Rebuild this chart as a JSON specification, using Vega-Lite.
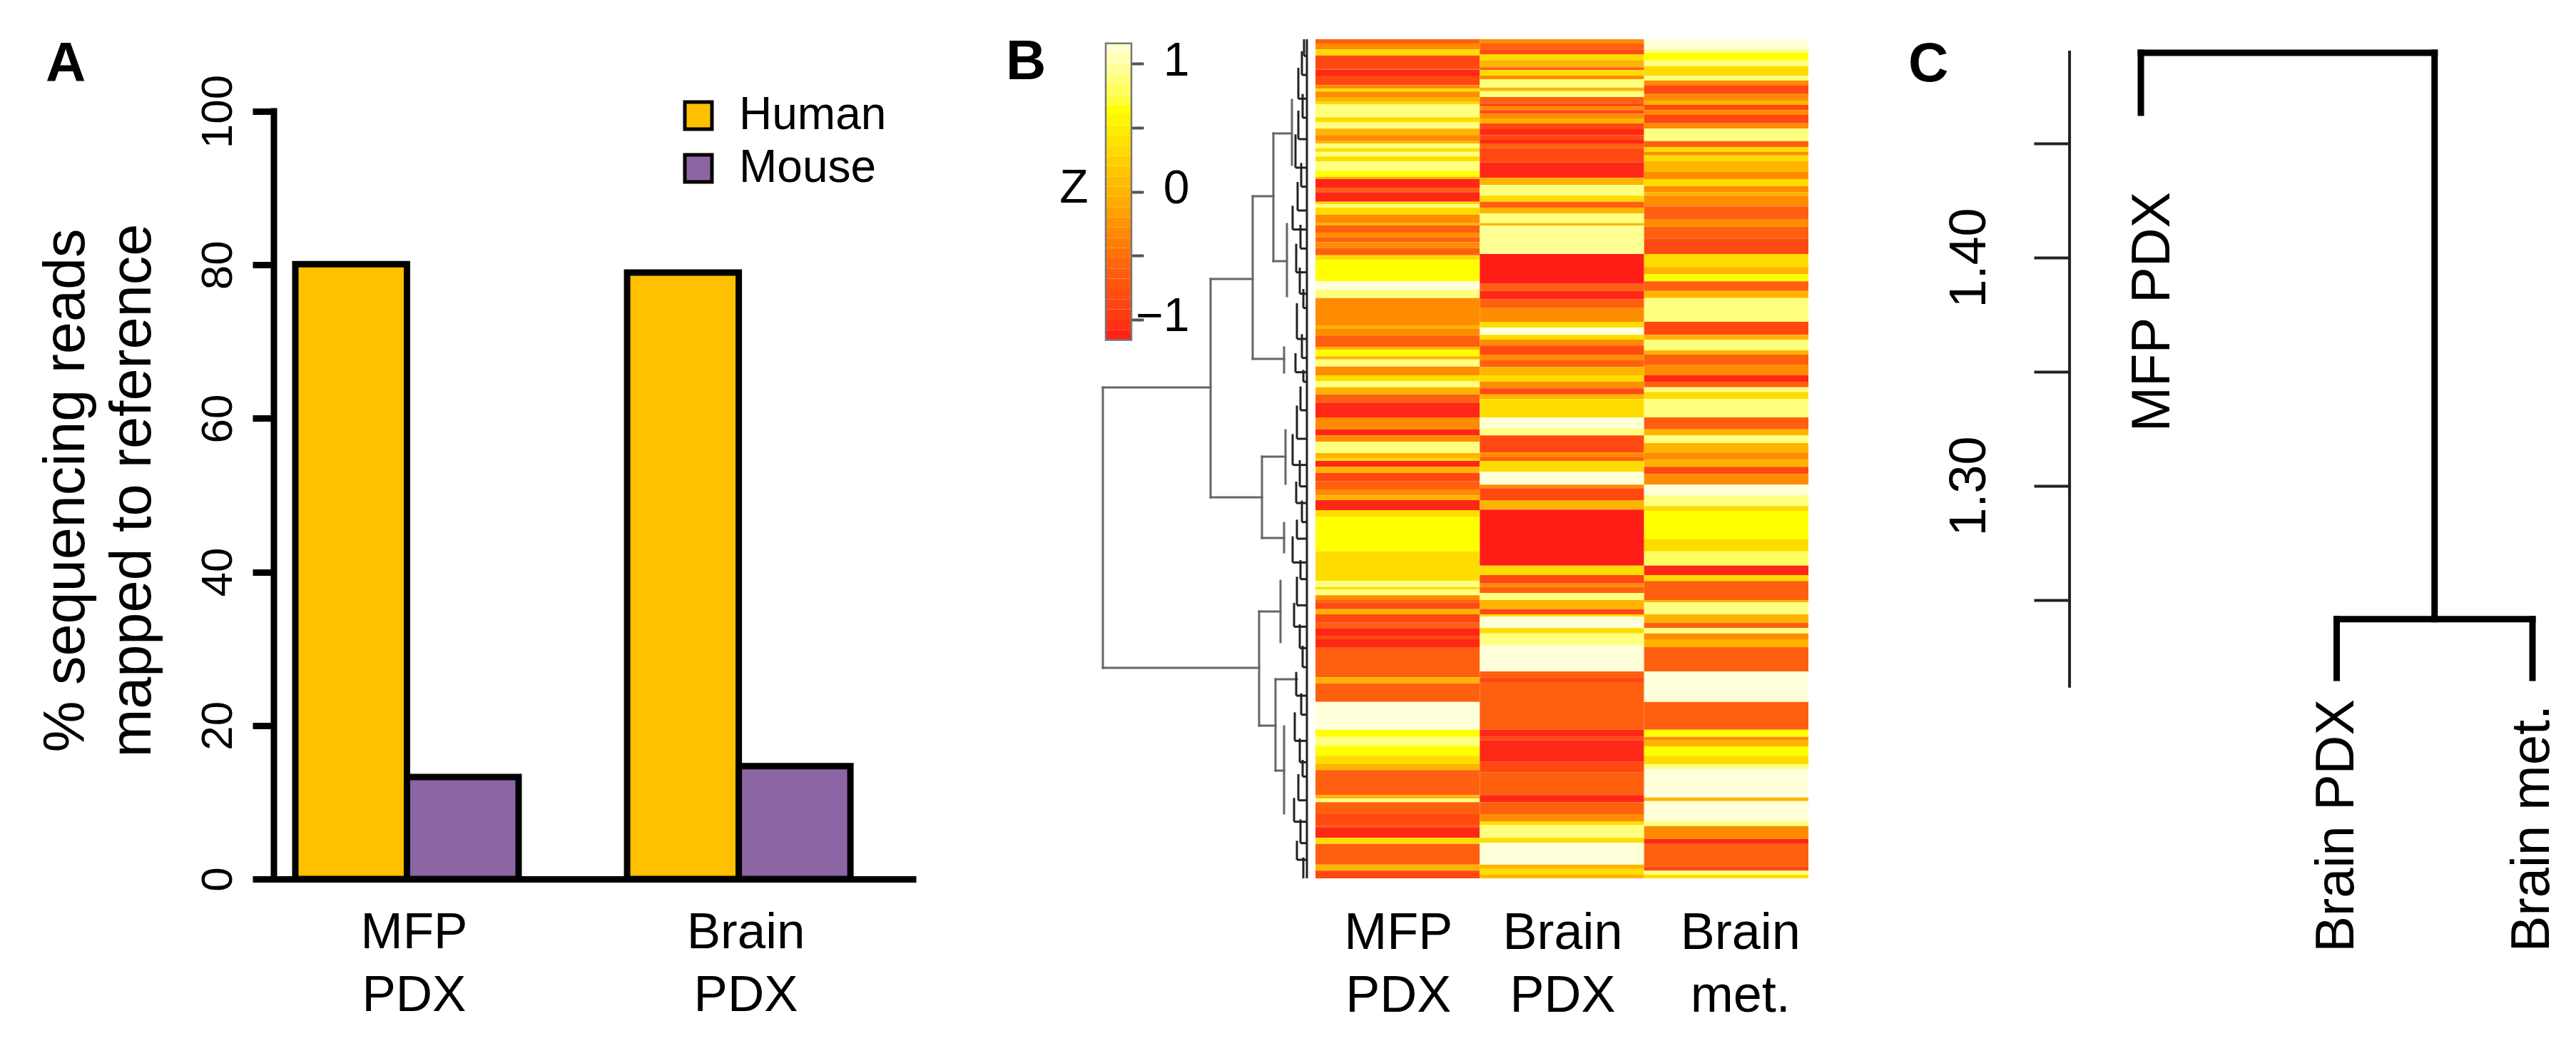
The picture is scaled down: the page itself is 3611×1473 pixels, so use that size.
{"$schema":"https://vega.github.io/schema/vega-lite/v6.json","padding":{"left":52,"top":49,"right":0,"bottom":0},"background":"white","spacing":0,"bounds":"flush","config":{"view":{"stroke":null},"font":"Liberation Sans","axis":{"grid":false,"labelFont":"Liberation Sans","titleFont":"Liberation Sans","labelColor":"#000","titleColor":"#000","titleFontWeight":"normal"}},"resolve":{"scale":{"fill":"independent","x":"independent","y":"independent"}},
"datasets":{
"bars":[{"sample":"MFP PDX","species":"Human","pct":80.1},{"sample":"MFP PDX","species":"Mouse","pct":13.3},{"sample":"Brain PDX","species":"Human","pct":79},{"sample":"Brain PDX","species":"Mouse","pct":14.7}],
"scale":[{"z":-1.12,"lo":-1.16,"hi":-1.08},{"z":-1.04,"lo":-1.08,"hi":-1.0},{"z":-0.96,"lo":-1.0,"hi":-0.92},{"z":-0.88,"lo":-0.92,"hi":-0.84},{"z":-0.8,"lo":-0.84,"hi":-0.76},{"z":-0.72,"lo":-0.76,"hi":-0.68},{"z":-0.64,"lo":-0.68,"hi":-0.6},{"z":-0.56,"lo":-0.6,"hi":-0.52},{"z":-0.48,"lo":-0.52,"hi":-0.44},{"z":-0.4,"lo":-0.44,"hi":-0.36},{"z":-0.32,"lo":-0.36,"hi":-0.28},{"z":-0.24,"lo":-0.28,"hi":-0.2},{"z":-0.16,"lo":-0.2,"hi":-0.12},{"z":-0.08,"lo":-0.12,"hi":-0.04},{"z":0,"lo":-0.04,"hi":0.04},{"z":0.08,"lo":0.04,"hi":0.12},{"z":0.16,"lo":0.12,"hi":0.2},{"z":0.24,"lo":0.2,"hi":0.28},{"z":0.32,"lo":0.28,"hi":0.36},{"z":0.4,"lo":0.36,"hi":0.44},{"z":0.48,"lo":0.44,"hi":0.52},{"z":0.56,"lo":0.52,"hi":0.6},{"z":0.64,"lo":0.6,"hi":0.68},{"z":0.72,"lo":0.68,"hi":0.76},{"z":0.8,"lo":0.76,"hi":0.84},{"z":0.88,"lo":0.84,"hi":0.92},{"z":0.96,"lo":0.92,"hi":1.0},{"z":1.04,"lo":1.0,"hi":1.08},{"z":1.12,"lo":1.08,"hi":1.16}],
"dendro":[{"h1":2.86,"r1":1464,"h2":2.86,"r2":2643},{"h1":2.86,"r1":1464,"h2":1.35,"r2":1464},{"h1":1.35,"r1":1008,"h2":1.35,"r2":1926},{"h1":1.35,"r1":1008,"h2":0.76,"r2":1008},{"h1":0.76,"r1":660,"h2":0.76,"r2":1344},{"h1":0.76,"r1":660,"h2":0.47,"r2":660},{"h1":0.47,"r1":396,"h2":0.47,"r2":933},{"h1":0.47,"r1":396,"h2":0.21,"r2":396},{"h1":0.21,"r1":255,"h2":0.21,"r2":528},{"h1":0.47,"r1":933,"h2":0.28,"r2":933},{"h1":0.28,"r1":777,"h2":0.28,"r2":1080},{"h1":0.76,"r1":1344,"h2":0.32,"r2":1344},{"h1":0.32,"r1":1296,"h2":0.32,"r2":1401},{"h1":1.35,"r1":1926,"h2":0.63,"r2":1926},{"h1":0.63,"r1":1755,"h2":0.63,"r2":2097},{"h1":0.63,"r1":1755,"h2":0.3,"r2":1755},{"h1":0.3,"r1":1644,"h2":0.3,"r2":1869},{"h1":0.63,"r1":2097,"h2":0.32,"r2":2097},{"h1":0.32,"r1":2034,"h2":0.32,"r2":2157},{"h1":2.86,"r1":2643,"h2":0.67,"r2":2643},{"h1":0.67,"r1":2406,"h2":0.67,"r2":2886},{"h1":0.67,"r1":2406,"h2":0.37,"r2":2406},{"h1":0.37,"r1":2277,"h2":0.37,"r2":2535},{"h1":0.67,"r1":2886,"h2":0.44,"r2":2886},{"h1":0.44,"r1":2691,"h2":0.44,"r2":3075},{"h1":0.44,"r1":2691,"h2":0.14,"r2":2691},{"h1":0.44,"r1":3075,"h2":0.32,"r2":3075},{"h1":0.32,"r1":2889,"h2":0.32,"r2":3255}],
"fuzz":[{"h1":0,"r1":0,"h2":0,"r2":3528},{"h1":0.04,"r1":0,"h2":0.04,"r2":70},{"h1":0.04,"r1":70,"h2":0,"r2":70},{"h1":0.07,"r1":50,"h2":0.07,"r2":150},{"h1":0.07,"r1":150,"h2":0,"r2":150},{"h1":0.12,"r1":120,"h2":0.12,"r2":250},{"h1":0.12,"r1":250,"h2":0,"r2":250},{"h1":0.06,"r1":230,"h2":0.06,"r2":330},{"h1":0.06,"r1":330,"h2":0,"r2":330},{"h1":0.12,"r1":300,"h2":0.12,"r2":420},{"h1":0.12,"r1":420,"h2":0,"r2":420},{"h1":0.16,"r1":400,"h2":0.16,"r2":540},{"h1":0.16,"r1":540,"h2":0,"r2":540},{"h1":0.08,"r1":520,"h2":0.08,"r2":620},{"h1":0.08,"r1":620,"h2":0,"r2":620},{"h1":0.13,"r1":600,"h2":0.13,"r2":720},{"h1":0.13,"r1":720,"h2":0,"r2":720},{"h1":0.2,"r1":700,"h2":0.2,"r2":800},{"h1":0.2,"r1":800,"h2":0,"r2":800},{"h1":0.09,"r1":780,"h2":0.09,"r2":880},{"h1":0.09,"r1":880,"h2":0,"r2":880},{"h1":0.15,"r1":860,"h2":0.15,"r2":980},{"h1":0.15,"r1":980,"h2":0,"r2":980},{"h1":0.1,"r1":960,"h2":0.1,"r2":1070},{"h1":0.1,"r1":1070,"h2":0,"r2":1070},{"h1":0.05,"r1":1050,"h2":0.05,"r2":1130},{"h1":0.05,"r1":1130,"h2":0,"r2":1130},{"h1":0.14,"r1":1110,"h2":0.14,"r2":1260},{"h1":0.14,"r1":1260,"h2":0,"r2":1260},{"h1":0.07,"r1":1240,"h2":0.07,"r2":1340},{"h1":0.07,"r1":1340,"h2":0,"r2":1340},{"h1":0.16,"r1":1320,"h2":0.16,"r2":1400},{"h1":0.16,"r1":1400,"h2":0,"r2":1400},{"h1":0.05,"r1":1390,"h2":0.05,"r2":1440},{"h1":0.05,"r1":1440,"h2":0,"r2":1440},{"h1":0.09,"r1":1460,"h2":0.09,"r2":1560},{"h1":0.09,"r1":1560,"h2":0,"r2":1560},{"h1":0.14,"r1":1540,"h2":0.14,"r2":1680},{"h1":0.14,"r1":1680,"h2":0,"r2":1680},{"h1":0.2,"r1":1660,"h2":0.2,"r2":1790},{"h1":0.2,"r1":1790,"h2":0,"r2":1790},{"h1":0.1,"r1":1770,"h2":0.1,"r2":1880},{"h1":0.1,"r1":1880,"h2":0,"r2":1880},{"h1":0.15,"r1":1860,"h2":0.15,"r2":1950},{"h1":0.15,"r1":1950,"h2":0,"r2":1950},{"h1":0.07,"r1":1940,"h2":0.07,"r2":2030},{"h1":0.07,"r1":2030,"h2":0,"r2":2030},{"h1":0.14,"r1":2020,"h2":0.14,"r2":2100},{"h1":0.14,"r1":2100,"h2":0,"r2":2100},{"h1":0.2,"r1":2090,"h2":0.2,"r2":2200},{"h1":0.2,"r1":2200,"h2":0,"r2":2200},{"h1":0.09,"r1":2190,"h2":0.09,"r2":2270},{"h1":0.09,"r1":2270,"h2":0,"r2":2270},{"h1":0.14,"r1":2260,"h2":0.14,"r2":2380},{"h1":0.14,"r1":2380,"h2":0,"r2":2380},{"h1":0.18,"r1":2370,"h2":0.18,"r2":2470},{"h1":0.18,"r1":2470,"h2":0,"r2":2470},{"h1":0.1,"r1":2460,"h2":0.1,"r2":2560},{"h1":0.1,"r1":2560,"h2":0,"r2":2560},{"h1":0.06,"r1":2550,"h2":0.06,"r2":2640},{"h1":0.06,"r1":2640,"h2":0,"r2":2640},{"h1":0.15,"r1":2660,"h2":0.15,"r2":2760},{"h1":0.15,"r1":2760,"h2":0,"r2":2760},{"h1":0.08,"r1":2750,"h2":0.08,"r2":2840},{"h1":0.08,"r1":2840,"h2":0,"r2":2840},{"h1":0.17,"r1":2830,"h2":0.17,"r2":2950},{"h1":0.17,"r1":2950,"h2":0,"r2":2950},{"h1":0.1,"r1":2940,"h2":0.1,"r2":3040},{"h1":0.1,"r1":3040,"h2":0,"r2":3040},{"h1":0.06,"r1":3030,"h2":0.06,"r2":3100},{"h1":0.06,"r1":3100,"h2":0,"r2":3100},{"h1":0.12,"r1":3090,"h2":0.12,"r2":3200},{"h1":0.12,"r1":3200,"h2":0,"r2":3200},{"h1":0.18,"r1":3190,"h2":0.18,"r2":3290},{"h1":0.18,"r1":3290,"h2":0,"r2":3290},{"h1":0.09,"r1":3280,"h2":0.09,"r2":3380},{"h1":0.09,"r1":3380,"h2":0,"r2":3380},{"h1":0.14,"r1":3370,"h2":0.14,"r2":3450},{"h1":0.14,"r1":3450,"h2":0,"r2":3450},{"h1":0.05,"r1":3440,"h2":0.05,"r2":3528}],
"heat":[
{"s":"MFP PDX","a":0,"b":18,"z":-0.6},{"s":"MFP PDX","a":18,"b":43,"z":-0.3},{"s":"MFP PDX","a":43,"b":68,"z":0.35},{"s":"MFP PDX","a":68,"b":123,"z":-0.85},{"s":"MFP PDX","a":123,"b":128,"z":-0.6},{"s":"MFP PDX","a":128,"b":153,"z":-1.1},{"s":"MFP PDX","a":153,"b":193,"z":-0.85},{"s":"MFP PDX","a":193,"b":208,"z":-0.3},{"s":"MFP PDX","a":208,"b":220,"z":0.35},{"s":"MFP PDX","a":220,"b":243,"z":-0.3},{"s":"MFP PDX","a":243,"b":263,"z":0},{"s":"MFP PDX","a":263,"b":273,"z":0.35},{"s":"MFP PDX","a":273,"b":328,"z":0.9},{"s":"MFP PDX","a":328,"b":348,"z":0.35},{"s":"MFP PDX","a":348,"b":376,"z":0.9},{"s":"MFP PDX","a":376,"b":403,"z":0},{"s":"MFP PDX","a":403,"b":428,"z":-0.3},{"s":"MFP PDX","a":428,"b":438,"z":0},{"s":"MFP PDX","a":438,"b":458,"z":0.9},{"s":"MFP PDX","a":458,"b":473,"z":0.35},{"s":"MFP PDX","a":473,"b":493,"z":0.9},{"s":"MFP PDX","a":493,"b":513,"z":0.35},{"s":"MFP PDX","a":513,"b":553,"z":0.9},{"s":"MFP PDX","a":553,"b":578,"z":0.64},{"s":"MFP PDX","a":578,"b":588,"z":0},{"s":"MFP PDX","a":588,"b":626,"z":-1.1},{"s":"MFP PDX","a":626,"b":643,"z":-0.6},{"s":"MFP PDX","a":643,"b":683,"z":-1.1},{"s":"MFP PDX","a":683,"b":693,"z":0.35},{"s":"MFP PDX","a":693,"b":708,"z":0.9},{"s":"MFP PDX","a":708,"b":738,"z":0.35},{"s":"MFP PDX","a":738,"b":773,"z":-0.3},{"s":"MFP PDX","a":773,"b":783,"z":0},{"s":"MFP PDX","a":783,"b":813,"z":-0.6},{"s":"MFP PDX","a":813,"b":833,"z":-0.3},{"s":"MFP PDX","a":833,"b":853,"z":-0.6},{"s":"MFP PDX","a":853,"b":878,"z":-0.3},{"s":"MFP PDX","a":878,"b":908,"z":-0.6},{"s":"MFP PDX","a":908,"b":928,"z":0.35},{"s":"MFP PDX","a":928,"b":1018,"z":0.64},{"s":"MFP PDX","a":1018,"b":1053,"z":1.15},{"s":"MFP PDX","a":1053,"b":1088,"z":0.9},{"s":"MFP PDX","a":1088,"b":1173,"z":-0.3},{"s":"MFP PDX","a":1173,"b":1203,"z":-0.3},{"s":"MFP PDX","a":1203,"b":1218,"z":0},{"s":"MFP PDX","a":1218,"b":1248,"z":-0.3},{"s":"MFP PDX","a":1248,"b":1293,"z":-0.6},{"s":"MFP PDX","a":1293,"b":1306,"z":0},{"s":"MFP PDX","a":1306,"b":1333,"z":0.64},{"s":"MFP PDX","a":1333,"b":1346,"z":0},{"s":"MFP PDX","a":1346,"b":1376,"z":0.9},{"s":"MFP PDX","a":1376,"b":1413,"z":-0.3},{"s":"MFP PDX","a":1413,"b":1438,"z":0.35},{"s":"MFP PDX","a":1438,"b":1463,"z":0.9},{"s":"MFP PDX","a":1463,"b":1493,"z":0},{"s":"MFP PDX","a":1493,"b":1528,"z":-0.6},{"s":"MFP PDX","a":1528,"b":1590,"z":-1.1},{"s":"MFP PDX","a":1590,"b":1640,"z":-0.3},{"s":"MFP PDX","a":1640,"b":1666,"z":-1.1},{"s":"MFP PDX","a":1666,"b":1693,"z":-0.3},{"s":"MFP PDX","a":1693,"b":1740,"z":0.9},{"s":"MFP PDX","a":1740,"b":1763,"z":0},{"s":"MFP PDX","a":1763,"b":1773,"z":0.35},{"s":"MFP PDX","a":1773,"b":1798,"z":-1.1},{"s":"MFP PDX","a":1798,"b":1823,"z":0},{"s":"MFP PDX","a":1823,"b":1858,"z":-0.85},{"s":"MFP PDX","a":1858,"b":1893,"z":-0.6},{"s":"MFP PDX","a":1893,"b":1918,"z":-0.3},{"s":"MFP PDX","a":1918,"b":1938,"z":0},{"s":"MFP PDX","a":1938,"b":1980,"z":-1.1},{"s":"MFP PDX","a":1980,"b":2008,"z":0.35},{"s":"MFP PDX","a":2008,"b":2153,"z":0.64},{"s":"MFP PDX","a":2153,"b":2278,"z":0.35},{"s":"MFP PDX","a":2278,"b":2303,"z":0.9},{"s":"MFP PDX","a":2303,"b":2313,"z":0.35},{"s":"MFP PDX","a":2313,"b":2338,"z":0.9},{"s":"MFP PDX","a":2338,"b":2358,"z":-0.3},{"s":"MFP PDX","a":2358,"b":2368,"z":-0.6},{"s":"MFP PDX","a":2368,"b":2396,"z":-0.85},{"s":"MFP PDX","a":2396,"b":2418,"z":0},{"s":"MFP PDX","a":2418,"b":2453,"z":-0.85},{"s":"MFP PDX","a":2453,"b":2476,"z":-0.6},{"s":"MFP PDX","a":2476,"b":2508,"z":-1.1},{"s":"MFP PDX","a":2508,"b":2523,"z":-0.85},{"s":"MFP PDX","a":2523,"b":2556,"z":-1.1},{"s":"MFP PDX","a":2556,"b":2683,"z":-0.6},{"s":"MFP PDX","a":2683,"b":2708,"z":0},{"s":"MFP PDX","a":2708,"b":2786,"z":-0.6},{"s":"MFP PDX","a":2786,"b":2903,"z":1.15},{"s":"MFP PDX","a":2903,"b":2933,"z":0.64},{"s":"MFP PDX","a":2933,"b":2973,"z":0.9},{"s":"MFP PDX","a":2973,"b":3013,"z":0.64},{"s":"MFP PDX","a":3013,"b":3048,"z":0.35},{"s":"MFP PDX","a":3048,"b":3073,"z":0},{"s":"MFP PDX","a":3073,"b":3178,"z":-0.6},{"s":"MFP PDX","a":3178,"b":3193,"z":0},{"s":"MFP PDX","a":3193,"b":3208,"z":0.9},{"s":"MFP PDX","a":3208,"b":3258,"z":-0.6},{"s":"MFP PDX","a":3258,"b":3303,"z":-0.85},{"s":"MFP PDX","a":3303,"b":3313,"z":-0.6},{"s":"MFP PDX","a":3313,"b":3358,"z":-1.1},{"s":"MFP PDX","a":3358,"b":3383,"z":0.35},{"s":"MFP PDX","a":3383,"b":3470,"z":-0.6},{"s":"MFP PDX","a":3470,"b":3496,"z":0},{"s":"MFP PDX","a":3496,"b":3528,"z":-0.85},
{"s":"Brain PDX","a":0,"b":18,"z":-0.3},{"s":"Brain PDX","a":18,"b":43,"z":-0.6},{"s":"Brain PDX","a":43,"b":63,"z":-0.85},{"s":"Brain PDX","a":63,"b":88,"z":0.35},{"s":"Brain PDX","a":88,"b":118,"z":0},{"s":"Brain PDX","a":118,"b":130,"z":-0.6},{"s":"Brain PDX","a":130,"b":153,"z":0.35},{"s":"Brain PDX","a":153,"b":168,"z":-0.3},{"s":"Brain PDX","a":168,"b":203,"z":0.9},{"s":"Brain PDX","a":203,"b":218,"z":0},{"s":"Brain PDX","a":218,"b":243,"z":0.9},{"s":"Brain PDX","a":243,"b":268,"z":-0.6},{"s":"Brain PDX","a":268,"b":283,"z":-0.85},{"s":"Brain PDX","a":283,"b":298,"z":-0.3},{"s":"Brain PDX","a":298,"b":313,"z":-0.85},{"s":"Brain PDX","a":313,"b":333,"z":-0.3},{"s":"Brain PDX","a":333,"b":353,"z":0},{"s":"Brain PDX","a":353,"b":378,"z":-0.85},{"s":"Brain PDX","a":378,"b":403,"z":-1.1},{"s":"Brain PDX","a":403,"b":423,"z":-0.85},{"s":"Brain PDX","a":423,"b":438,"z":-1.1},{"s":"Brain PDX","a":438,"b":458,"z":-0.6},{"s":"Brain PDX","a":458,"b":518,"z":-0.85},{"s":"Brain PDX","a":518,"b":583,"z":-1.1},{"s":"Brain PDX","a":583,"b":613,"z":0},{"s":"Brain PDX","a":613,"b":658,"z":0.9},{"s":"Brain PDX","a":658,"b":683,"z":0.35},{"s":"Brain PDX","a":683,"b":708,"z":-0.6},{"s":"Brain PDX","a":708,"b":733,"z":0},{"s":"Brain PDX","a":733,"b":773,"z":0.9},{"s":"Brain PDX","a":773,"b":783,"z":0},{"s":"Brain PDX","a":783,"b":903,"z":0.95},{"s":"Brain PDX","a":903,"b":1028,"z":-1.15},{"s":"Brain PDX","a":1028,"b":1058,"z":-0.6},{"s":"Brain PDX","a":1058,"b":1093,"z":-1.1},{"s":"Brain PDX","a":1093,"b":1128,"z":-0.6},{"s":"Brain PDX","a":1128,"b":1188,"z":-0.3},{"s":"Brain PDX","a":1188,"b":1213,"z":0.35},{"s":"Brain PDX","a":1213,"b":1243,"z":1.15},{"s":"Brain PDX","a":1243,"b":1263,"z":0.35},{"s":"Brain PDX","a":1263,"b":1288,"z":-0.3},{"s":"Brain PDX","a":1288,"b":1326,"z":-0.85},{"s":"Brain PDX","a":1326,"b":1348,"z":-0.3},{"s":"Brain PDX","a":1348,"b":1378,"z":-0.6},{"s":"Brain PDX","a":1378,"b":1413,"z":0},{"s":"Brain PDX","a":1413,"b":1440,"z":0.35},{"s":"Brain PDX","a":1440,"b":1468,"z":-0.3},{"s":"Brain PDX","a":1468,"b":1493,"z":-0.85},{"s":"Brain PDX","a":1493,"b":1513,"z":0},{"s":"Brain PDX","a":1513,"b":1590,"z":0.35},{"s":"Brain PDX","a":1590,"b":1636,"z":1.15},{"s":"Brain PDX","a":1636,"b":1666,"z":0.9},{"s":"Brain PDX","a":1666,"b":1738,"z":-0.85},{"s":"Brain PDX","a":1738,"b":1758,"z":-0.3},{"s":"Brain PDX","a":1758,"b":1773,"z":-0.6},{"s":"Brain PDX","a":1773,"b":1818,"z":0.35},{"s":"Brain PDX","a":1818,"b":1873,"z":1.15},{"s":"Brain PDX","a":1873,"b":1888,"z":-0.3},{"s":"Brain PDX","a":1888,"b":1938,"z":-0.85},{"s":"Brain PDX","a":1938,"b":1978,"z":0},{"s":"Brain PDX","a":1978,"b":2213,"z":-1.15},{"s":"Brain PDX","a":2213,"b":2253,"z":0.35},{"s":"Brain PDX","a":2253,"b":2288,"z":-0.85},{"s":"Brain PDX","a":2288,"b":2303,"z":-0.3},{"s":"Brain PDX","a":2303,"b":2328,"z":-0.6},{"s":"Brain PDX","a":2328,"b":2358,"z":0.9},{"s":"Brain PDX","a":2358,"b":2396,"z":0},{"s":"Brain PDX","a":2396,"b":2418,"z":-0.85},{"s":"Brain PDX","a":2418,"b":2428,"z":0.35},{"s":"Brain PDX","a":2428,"b":2476,"z":1.15},{"s":"Brain PDX","a":2476,"b":2498,"z":0.35},{"s":"Brain PDX","a":2498,"b":2548,"z":0.9},{"s":"Brain PDX","a":2548,"b":2658,"z":1.15},{"s":"Brain PDX","a":2658,"b":2683,"z":-0.6},{"s":"Brain PDX","a":2683,"b":2703,"z":-0.85},{"s":"Brain PDX","a":2703,"b":2903,"z":-0.6},{"s":"Brain PDX","a":2903,"b":2933,"z":-1.1},{"s":"Brain PDX","a":2933,"b":2948,"z":-0.85},{"s":"Brain PDX","a":2948,"b":3038,"z":-1.1},{"s":"Brain PDX","a":3038,"b":3083,"z":-0.85},{"s":"Brain PDX","a":3083,"b":3178,"z":-0.6},{"s":"Brain PDX","a":3178,"b":3208,"z":-1.1},{"s":"Brain PDX","a":3208,"b":3258,"z":-0.6},{"s":"Brain PDX","a":3258,"b":3288,"z":-0.3},{"s":"Brain PDX","a":3288,"b":3303,"z":0.35},{"s":"Brain PDX","a":3303,"b":3358,"z":0.9},{"s":"Brain PDX","a":3358,"b":3378,"z":0.35},{"s":"Brain PDX","a":3378,"b":3470,"z":1.15},{"s":"Brain PDX","a":3470,"b":3488,"z":0},{"s":"Brain PDX","a":3488,"b":3513,"z":0.35},{"s":"Brain PDX","a":3513,"b":3528,"z":0},
{"s":"Brain met.","a":0,"b":43,"z":1.15},{"s":"Brain met.","a":43,"b":58,"z":0.9},{"s":"Brain met.","a":58,"b":88,"z":0.64},{"s":"Brain met.","a":88,"b":113,"z":0.9},{"s":"Brain met.","a":113,"b":153,"z":0.35},{"s":"Brain met.","a":153,"b":173,"z":0.9},{"s":"Brain met.","a":173,"b":193,"z":-0.3},{"s":"Brain met.","a":193,"b":230,"z":-0.85},{"s":"Brain met.","a":230,"b":258,"z":-0.3},{"s":"Brain met.","a":258,"b":276,"z":0},{"s":"Brain met.","a":276,"b":298,"z":-0.85},{"s":"Brain met.","a":298,"b":318,"z":-0.3},{"s":"Brain met.","a":318,"b":353,"z":-0.85},{"s":"Brain met.","a":353,"b":376,"z":-0.3},{"s":"Brain met.","a":376,"b":428,"z":0.9},{"s":"Brain met.","a":428,"b":453,"z":-0.6},{"s":"Brain met.","a":453,"b":473,"z":0.35},{"s":"Brain met.","a":473,"b":488,"z":-0.3},{"s":"Brain met.","a":488,"b":513,"z":0.35},{"s":"Brain met.","a":513,"b":558,"z":0},{"s":"Brain met.","a":558,"b":588,"z":-0.3},{"s":"Brain met.","a":588,"b":618,"z":0.35},{"s":"Brain met.","a":618,"b":643,"z":-0.3},{"s":"Brain met.","a":643,"b":658,"z":0},{"s":"Brain met.","a":658,"b":703,"z":-0.3},{"s":"Brain met.","a":703,"b":758,"z":-0.6},{"s":"Brain met.","a":758,"b":788,"z":-0.3},{"s":"Brain met.","a":788,"b":838,"z":-0.6},{"s":"Brain met.","a":838,"b":903,"z":-0.85},{"s":"Brain met.","a":903,"b":958,"z":0.35},{"s":"Brain met.","a":958,"b":988,"z":0},{"s":"Brain met.","a":988,"b":1018,"z":0.64},{"s":"Brain met.","a":1018,"b":1058,"z":-0.6},{"s":"Brain met.","a":1058,"b":1088,"z":0},{"s":"Brain met.","a":1088,"b":1188,"z":0.9},{"s":"Brain met.","a":1188,"b":1243,"z":-0.85},{"s":"Brain met.","a":1243,"b":1263,"z":0},{"s":"Brain met.","a":1263,"b":1308,"z":0.9},{"s":"Brain met.","a":1308,"b":1326,"z":0},{"s":"Brain met.","a":1326,"b":1368,"z":-0.6},{"s":"Brain met.","a":1368,"b":1413,"z":-0.3},{"s":"Brain met.","a":1413,"b":1440,"z":-1.1},{"s":"Brain met.","a":1440,"b":1463,"z":-0.6},{"s":"Brain met.","a":1463,"b":1483,"z":0.9},{"s":"Brain met.","a":1483,"b":1513,"z":0.35},{"s":"Brain met.","a":1513,"b":1590,"z":0.9},{"s":"Brain met.","a":1590,"b":1640,"z":-0.6},{"s":"Brain met.","a":1640,"b":1666,"z":0},{"s":"Brain met.","a":1666,"b":1698,"z":0.9},{"s":"Brain met.","a":1698,"b":1738,"z":0},{"s":"Brain met.","a":1738,"b":1768,"z":-0.3},{"s":"Brain met.","a":1768,"b":1798,"z":0},{"s":"Brain met.","a":1798,"b":1828,"z":-0.85},{"s":"Brain met.","a":1828,"b":1873,"z":-0.3},{"s":"Brain met.","a":1873,"b":1918,"z":1.15},{"s":"Brain met.","a":1918,"b":1963,"z":0.9},{"s":"Brain met.","a":1963,"b":1983,"z":0.35},{"s":"Brain met.","a":1983,"b":2103,"z":0.64},{"s":"Brain met.","a":2103,"b":2153,"z":0.35},{"s":"Brain met.","a":2153,"b":2213,"z":0.8},{"s":"Brain met.","a":2213,"b":2253,"z":-1.1},{"s":"Brain met.","a":2253,"b":2278,"z":0.35},{"s":"Brain met.","a":2278,"b":2358,"z":-0.6},{"s":"Brain met.","a":2358,"b":2368,"z":0},{"s":"Brain met.","a":2368,"b":2418,"z":0.9},{"s":"Brain met.","a":2418,"b":2453,"z":0},{"s":"Brain met.","a":2453,"b":2476,"z":-0.6},{"s":"Brain met.","a":2476,"b":2498,"z":0.9},{"s":"Brain met.","a":2498,"b":2523,"z":-0.3},{"s":"Brain met.","a":2523,"b":2556,"z":0},{"s":"Brain met.","a":2556,"b":2658,"z":-0.6},{"s":"Brain met.","a":2658,"b":2786,"z":1.15},{"s":"Brain met.","a":2786,"b":2903,"z":-0.6},{"s":"Brain met.","a":2903,"b":2933,"z":0.64},{"s":"Brain met.","a":2933,"b":2948,"z":-0.3},{"s":"Brain met.","a":2948,"b":2973,"z":0},{"s":"Brain met.","a":2973,"b":3013,"z":0.64},{"s":"Brain met.","a":3013,"b":3048,"z":0.35},{"s":"Brain met.","a":3048,"b":3068,"z":0.9},{"s":"Brain met.","a":3068,"b":3188,"z":1.15},{"s":"Brain met.","a":3188,"b":3203,"z":0},{"s":"Brain met.","a":3203,"b":3288,"z":1.15},{"s":"Brain met.","a":3288,"b":3308,"z":0.9},{"s":"Brain met.","a":3308,"b":3363,"z":-0.3},{"s":"Brain met.","a":3363,"b":3383,"z":-1.1},{"s":"Brain met.","a":3383,"b":3478,"z":-0.6},{"s":"Brain met.","a":3478,"b":3496,"z":-0.85},{"s":"Brain met.","a":3496,"b":3513,"z":0.9},{"s":"Brain met.","a":3513,"b":3528,"z":0.35}],
"tree":[{"l1":1,"d1":1.4897,"l2":2.5,"d2":1.4897},{"l1":1,"d1":1.4897,"l2":1,"d2":1.4634},{"l1":2.5,"d1":1.4897,"l2":2.5,"d2":1.2416},{"l1":2,"d1":1.2416,"l2":3,"d2":1.2416},{"l1":2,"d1":1.2416,"l2":2,"d2":1.2159},{"l1":3,"d1":1.2416,"l2":3,"d2":1.2159}],
"leaves":[{"leaf":1.06,"d":1.4288,"name":"MFP PDX"},{"leaf":2,"d":1.2066,"name":"Brain PDX"},{"leaf":3,"d":1.2041,"name":"Brain met."}]
},
"hconcat":[
{"width":900,"height":1177,"title":{"text":"A","anchor":"start","frame":"group","dx":-320,"dy":79,"font":"Liberation Sans","fontWeight":"bold","fontSize":78,"color":"#000"},
"layer":[
{"data":{"name":"bars"},"mark":{"type":"bar","stroke":"#000","strokeWidth":9},"encoding":{
"x":{"field":"sample","type":"nominal","sort":["MFP PDX","Brain PDX"],"scale":{"paddingInner":0.327,"paddingOuter":0.131,"align":0.246},"axis":{"title":null,"labelAngle":0,"labelExpr":"split(datum.label,' ')","labelFontSize":71,"labelLineHeight":88,"labelPadding":40,"labelOffset":10,"labelBaseline":"top","ticks":false,"domainWidth":9,"domainColor":"#000","labelAlign":"center"}},
"xOffset":{"field":"species","type":"nominal","sort":["Human","Mouse"],"scale":{"paddingInner":0,"paddingOuter":0}},
"y":{"field":"pct","type":"quantitative","scale":{"domain":[0,109.39],"nice":false},"axis":{"values":[0,20,40,60,80,100],"domain":false,"tickSize":30,"tickWidth":9,"tickColor":"#000","labelFontSize":62,"labelAngle":-90,"labelAlign":"center","labelBaseline":"bottom","labelPadding":17,"title":["% sequencing reads","mapped to reference"],"titleFontSize":81,"titleLineHeight":93,"titleX":-250,"titleY":632}},
"fill":{"field":"species","type":"nominal","sort":["Human","Mouse"],"scale":{"domain":["Human","Mouse"],"range":["#ffc000","#8c65a5"]},"legend":{"orient":"none","legendX":563,"legendY":75,"title":null,"symbolType":"square","symbolSize":1444,"symbolStrokeWidth":5,"symbolStrokeColor":"#000","labelFontSize":64,"labelLimit":400,"labelFont":"Liberation Sans","labelColor":"#000","rowPadding":10,"labelOffset":25,"symbolOpacity":1}}}},
{"data":{"values":[{"from":0,"to":100}]},"mark":{"type":"rule","stroke":"#000","strokeWidth":9,"strokeCap":"square"},"encoding":{"x":{"value":0},"y":{"field":"from","type":"quantitative"},"y2":{"field":"to"}}}
]},
{"width":302,"height":1177,"title":{"text":"B","anchor":"start","frame":"group","dx":126,"dy":79,"font":"Liberation Sans","fontWeight":"bold","fontSize":78,"color":"#000"},
"layer":[
{"data":{"name":"scale"},"mark":{"type":"rect"},"encoding":{
"x":{"datum":0,"type":"quantitative","scale":{"domain":[-7.389,1],"nice":false,"zero":false},"axis":null},"x2":{"datum":1},
"y":{"field":"lo","type":"quantitative","scale":{"domain":[-5.374,1.192],"nice":false},"axis":{"orient":"right","values":[-1,-0.5,0,0.5,1],"domain":false,"tickSize":17,"tickWidth":4,"tickColor":"#555","labelExpr":"abs(datum.value)==0.5?'':format(datum.value,'d')","labelFontSize":66,"labelAlign":"right","labelPadding":64,"labelOffset":-4,"title":"Z","titleAngle":0,"titleFontSize":66,"titleX":-81,"titleY":208,"titleAlign":"center","titleBaseline":"middle"}},
"y2":{"field":"hi"},
"fill":{"field":"z","type":"quantitative","scale":{"type":"linear","domain":[-1.16,-0.6,-0.3,0,0.35,0.64,0.9,1.16],"range":["#ff1a16","#ff6010","#ff8c00","#ffb400","#ffdc00","#ffff00","#ffff80","#ffffdc"]},"legend":null}}},
{"data":{"values":[{"lo":-1.16,"hi":1.16}]},"mark":{"type":"rect","fillOpacity":0,"stroke":"#777","strokeWidth":2.5},"encoding":{"x":{"datum":0,"type":"quantitative"},"x2":{"datum":1},"y":{"field":"lo","type":"quantitative"},"y2":{"field":"hi"}}}
]},
{"width":258,"height":1177,"data":{"name":"dendro"},
"layer":[
{"mark":{"type":"rule","stroke":"#666","strokeWidth":3,"strokeCap":"square"},"encoding":{
"x":{"field":"h1","type":"quantitative","scale":{"domain":[2.46,-0.12],"nice":false,"zero":false},"axis":null},"x2":{"field":"h2"},
"y":{"field":"r1","type":"quantitative","scale":{"domain":[3531,0],"nice":false,"zero":false},"axis":null},"y2":{"field":"r2"}}},
{"data":{"name":"fuzz"},"mark":{"type":"rule","stroke":"#222","strokeWidth":3},"encoding":{
"x":{"field":"h1","type":"quantitative"},"x2":{"field":"h2"},
"y":{"field":"r1","type":"quantitative"},"y2":{"field":"r2"}}}
]},
{"width":691,"height":1177,"data":{"name":"heat"},"mark":{"type":"rect"},"encoding":{
"x":{"field":"s","type":"nominal","sort":["MFP PDX","Brain PDX","Brain met."],"scale":{"paddingInner":0,"paddingOuter":0},"axis":{"title":null,"domain":false,"ticks":false,"labelAngle":0,"labelExpr":"split(datum.label,' ')","labelFontSize":72,"labelLineHeight":88,"labelPadding":40,"labelBaseline":"top","labelAlign":"center","labelOffset":{"condition":{"test":"datum.value=='Brain met.'","value":20},"value":1}}},
"y":{"field":"a","type":"quantitative","scale":{"domain":[3531,0],"nice":false,"zero":false},"axis":null},"y2":{"field":"b"},
"fill":{"field":"z","type":"quantitative","scale":{"type":"linear","domain":[-1.16,-0.6,-0.3,0,0.35,0.64,0.9,1.16],"range":["#ff1a16","#ff6010","#ff8c00","#ffb400","#ffdc00","#ffff00","#ffff80","#ffffdc"]},"legend":null}}},
{"width":1075,"height":1177,"title":{"text":"C","anchor":"start","frame":"group","dx":140,"dy":79,"font":"Liberation Sans","fontWeight":"bold","fontSize":78,"color":"#000"},
"layer":[
{"data":{"name":"tree"},"mark":{"type":"rule","stroke":"#000","strokeWidth":9,"strokeCap":"square"},"encoding":{
"x":{"field":"l1","type":"quantitative","scale":{"domain":[-0.698,3.2186],"nice":false,"zero":false},"axis":null},"x2":{"field":"l2"},
"y":{"field":"d1","type":"quantitative","scale":{"domain":[1.1278,1.4956],"nice":false,"zero":false},"axis":{"offset":-366,"values":[1.25,1.3,1.35,1.4,1.45],"domain":false,"title":null,"tickSize":50,"tickWidth":4,"tickColor":"#222","labelExpr":"datum.value==1.3||datum.value==1.4?format(datum.value,'.2f'):''","labelFontSize":72,"labelAngle":-90,"labelAlign":"center","labelBaseline":"bottom","labelPadding":54}},"y2":{"field":"d2"}}},
{"data":{"values":[{"from":1.2116,"to":1.4906}]},"mark":{"type":"rule","stroke":"#222","strokeWidth":4},"encoding":{"x":{"datum":0.6357,"type":"quantitative"},"y":{"field":"from","type":"quantitative"},"y2":{"field":"to"}}},
{"data":{"name":"leaves"},"mark":{"type":"text","angle":270,"align":"right","baseline":"middle","fontSize":76,"font":"Liberation Sans","color":"#000"},"encoding":{"x":{"field":"leaf","type":"quantitative"},"y":{"field":"d","type":"quantitative"},"text":{"field":"name"}}}
]}
]}
